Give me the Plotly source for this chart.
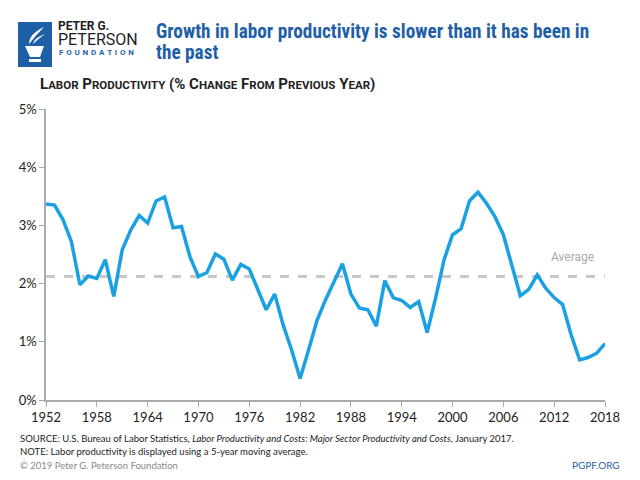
import plotly.graph_objects as go

years = list(range(1952, 2019))
productivity = [3.37, 3.35, 3.10, 2.72, 1.98, 2.13, 2.09, 2.41, 1.78, 2.58,
                2.92, 3.17, 3.04, 3.42, 3.49, 2.96, 2.98, 2.46, 2.12, 2.19,
                2.51, 2.42, 2.06, 2.33, 2.25, 1.89, 1.55, 1.82, 1.29, 0.86,
                0.37, 0.86, 1.37, 1.72, 2.02, 2.34, 1.82, 1.58, 1.55, 1.27,
                2.05, 1.76, 1.71, 1.59, 1.69, 1.16, 1.75, 2.41, 2.84, 2.94,
                3.42, 3.57, 3.38, 3.15, 2.84, 2.30, 1.79, 1.90, 2.15, 1.92,
                1.76, 1.64, 1.12, 0.69, 0.73, 0.80, 0.97]
average = 2.12
xtick_vals = [1952, 1958, 1964, 1970, 1976, 1982, 1988, 1994, 2000, 2006, 2012, 2018]
ytick_vals = [0, 1, 2, 3, 4, 5]
ytick_text = ["0%", "1%", "2%", "3%", "4%", "5%"]

BLUE = "#1ba1e2"
DARK = "#222222"
TITLE_BLUE = "#1f5fa6"
FONT = "Lato, Open Sans, sans-serif"
CONDENSED = "Roboto Condensed, Liberation Sans Narrow, Roboto, sans-serif"

# page offset: the html body adds an 8px margin
OFF = 8
FIG_W, FIG_H = 640 - OFF, 480 - OFF
# plot-area geometry in page pixels
L, R, T, B = 46, 605, 109, 400
W, H = R - L, B - T
def px(x):
    return (x - L) / W
def py(y):
    return (B - y) / H

fig = go.Figure()
fig.add_trace(go.Scatter(x=[years[0], years[-1]], y=[average, average], mode="lines",
                         line=dict(color="#c8c8c8", width=3, dash="dash"),
                         hoverinfo="skip", showlegend=False))
fig.add_trace(go.Scatter(x=years, y=productivity, mode="lines",
                         line=dict(color=BLUE, width=3.5), showlegend=False))

fig.add_annotation(x=2014.2, y=average, yshift=20, text="Average", showarrow=False,
                   font=dict(family="Roboto, sans-serif", size=12, color="#aaaaaa"),
                   xanchor="center", yanchor="middle")

subtitle_words = ["LABOR", "PRODUCTIVITY", "(%", "CHANGE", "FROM", "PREVIOUS", "YEAR)"]
def sc_word(w):
    out = ""
    first = True
    for ch in w:
        if ch.isalpha() and first:
            out += ch
            first = False
        elif ch.isalpha():
            out += f"<span style='font-size:11.5px'>{ch}</span>"
        else:
            out += ch
    return out
subtitle = " ".join(sc_word(w) for w in subtitle_words)

layout_annotations = [
    dict(x=px(38), y=py(84), text="<b>" + subtitle + "</b>", xanchor="left",
         font=dict(family="Roboto, sans-serif", size=15, color=DARK)),
    dict(x=px(154), y=py(31), text="<b>Growth in labor productivity is slower than it has been in</b>",
         xanchor="left", font=dict(family=CONDENSED, size=19.3, color=TITLE_BLUE)),
    dict(x=px(154), y=py(52), text="<b>the past</b>", xanchor="left",
         font=dict(family=CONDENSED, size=19.3, color=TITLE_BLUE)),
    dict(x=px(56), y=py(26.5), text="<b>PETER G.</b>", xanchor="left",
         font=dict(family="Roboto, sans-serif", size=12, color="#1e1e1e")),
    dict(x=px(56), y=py(40), text="PETERSON", xanchor="left",
         font=dict(family="Roboto, sans-serif", size=16, color="#1e1e1e")),
    dict(x=px(57), y=py(52), text="<b>" + " \u200a".join("FOUNDATION") + "</b>", xanchor="left",
         font=dict(family="Roboto, sans-serif", size=8, color=TITLE_BLUE)),
    dict(x=px(18), y=py(438),
         text="SOURCE: U.S. Bureau of Labor Statistics, <i>Labor Productivity and Costs: Major Sector Productivity and Costs</i>, January 2017.",
         xanchor="left", font=dict(family=FONT, size=9.5, color=DARK)),
    dict(x=px(18), y=py(451),
         text="NOTE: Labor productivity is displayed using a 5-year moving average.",
         xanchor="left", font=dict(family=FONT, size=9.5, color=DARK)),
    dict(x=px(18), y=py(465), text="© 2019 Peter G. Peterson Foundation",
         xanchor="left", font=dict(family=FONT, size=9.5, color="#888888")),
    dict(x=px(622), y=py(465), text="PGPF.ORG", xanchor="right",
         font=dict(family=FONT, size=10, color=TITLE_BLUE)),
]
for a in layout_annotations:
    fig.add_annotation(xref="paper", yref="paper", showarrow=False, yanchor="middle", **a)

# logo block
fig.add_shape(type="rect", xref="paper", yref="paper",
              x0=px(18), x1=px(52), y0=py(67), y1=py(22),
              fillcolor=TITLE_BLUE, line=dict(width=0), layer="above")
# simplified torch glyph
fig.add_shape(type="path", xref="paper", yref="paper",
              path=f"M {px(25)},{py(46)} L {px(44)},{py(46)} L {px(40)},{py(57)} L {px(30)},{py(57)} Z",
              fillcolor="white", line=dict(width=0), layer="above")
fig.add_shape(type="rect", xref="paper", yref="paper",
              x0=px(29), x1=px(41), y0=py(62), y1=py(59),
              fillcolor="white", line=dict(width=0), layer="above")
fig.add_shape(type="path", xref="paper", yref="paper",
              path=f"M {px(29)},{py(44)} Q {px(29)},{py(34)} {px(44)},{py(27)} Q {px(35)},{py(36)} {px(29)},{py(44)} Z",
              fillcolor="white", line=dict(width=0), layer="above")
fig.add_shape(type="path", xref="paper", yref="paper",
              path=f"M {px(33)},{py(44)} Q {px(34)},{py(38)} {px(45)},{py(34)} Q {px(38)},{py(39)} {px(33)},{py(44)} Z",
              fillcolor="white", line=dict(width=0), layer="above")

fig.update_layout(
    width=FIG_W, height=FIG_H,
    margin=dict(l=L - OFF, r=640 - R, t=T - OFF, b=480 - B, autoexpand=False),
    paper_bgcolor="white", plot_bgcolor="white",
    font=dict(family=FONT, size=12, color=DARK),
    xaxis=dict(range=[1952, 2018], tickmode="array", tickvals=xtick_vals, automargin=False,
               showgrid=False, zeroline=False, showline=True, linecolor="#aaaaaa", linewidth=1.5,
               ticks="outside", ticklen=5, tickcolor="#aaaaaa",
               tickfont=dict(family=FONT, size=13, color=DARK)),
    yaxis=dict(range=[0, 5], tickmode="array", tickvals=ytick_vals, ticktext=ytick_text, automargin=False,
               showgrid=False, zeroline=False, showline=True, linecolor="#aaaaaa", linewidth=1.5,
               ticks="outside", ticklen=5, tickcolor="#aaaaaa",
               tickfont=dict(family=FONT, size=13, color=DARK)),
)

fig.write_html("out.html")
